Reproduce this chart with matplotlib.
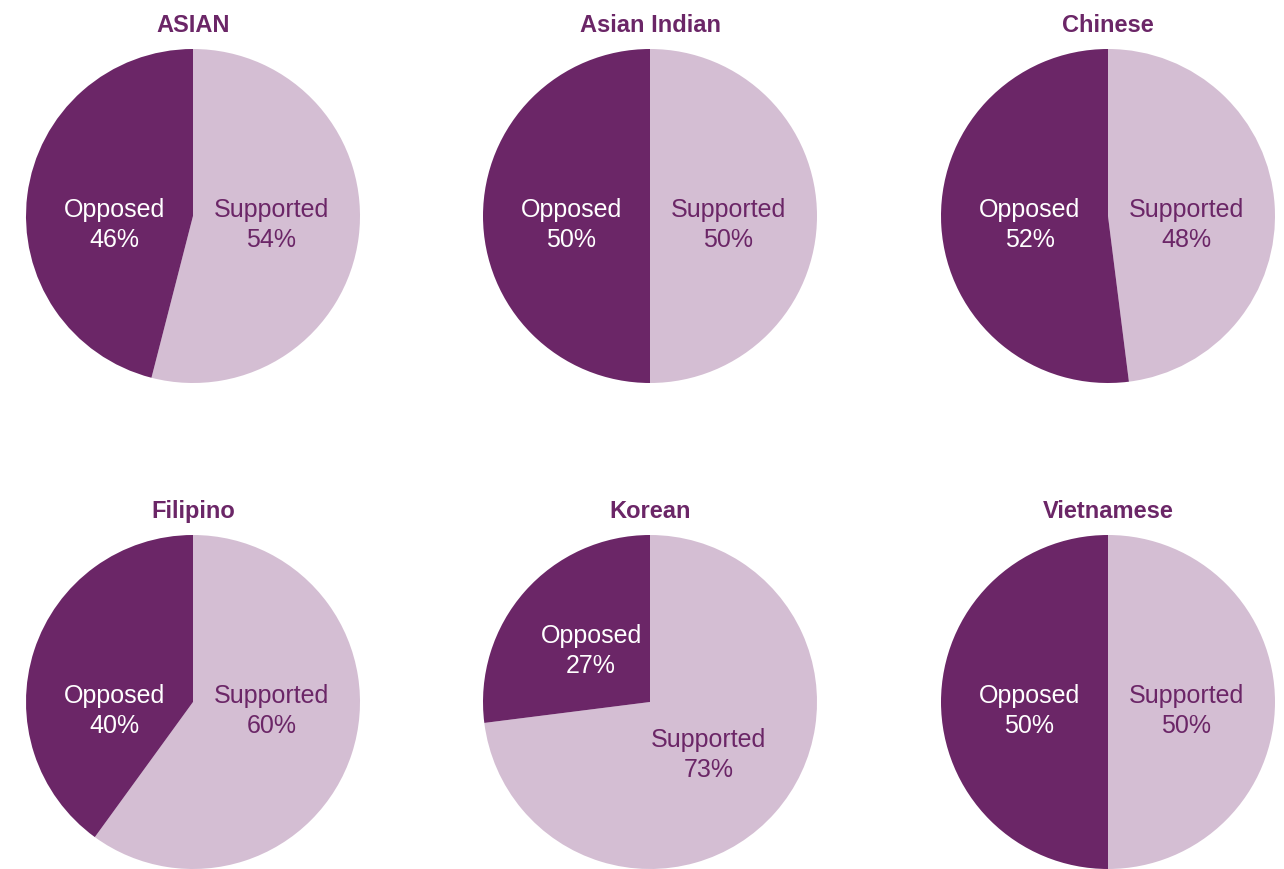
import numpy as np
import matplotlib.pyplot as plt

groups = ["ASIAN", "Asian Indian", "Chinese", "Filipino", "Korean", "Vietnamese"]
supported = [54, 50, 48, 60, 73, 50]
opposed = [46, 50, 52, 40, 27, 50]

DARK = "#6b2667"
LIGHT = "#d4bed3"

W, H = 1284, 870
fig = plt.figure(figsize=(W / 100, H / 100), dpi=100)
plt.rcParams['font.family'] = ['Liberation Sans', 'DejaVu Sans']

# pie centres in pixels (from top-left) and radius
col_x = [193, 650, 1108]
row_y = [217, 703]
R = 167
LBL_R = 0.47


def label_pos(start, frac, side):
    # near-even splits get side-by-side labels, lopsided ones follow the wedge middle
    if 0.35 <= frac <= 0.65:
        return side * LBL_R, -0.05
    mid = np.deg2rad(start - frac * 180)
    return LBL_R * np.cos(mid), LBL_R * np.sin(mid)


for i, name in enumerate(groups):
    cx = col_x[i % 3]
    cy = row_y[i // 3]
    ax = fig.add_axes([(cx - R) / W, (H - cy - R) / H, 2 * R / W, 2 * R / H])
    vals = [supported[i], opposed[i]]
    ax.pie(vals, colors=[LIGHT, DARK], startangle=90, counterclock=False,
           wedgeprops=dict(linewidth=0))
    fs = supported[i] / 100
    fo = opposed[i] / 100
    sx, sy = label_pos(90, fs, 1)
    ox, oy = label_pos(90 - fs * 360, fo, -1)
    ax.text(sx, sy, f"Supported\n{supported[i]}%", color=DARK, fontsize=18,
            ha='center', va='center', linespacing=1.3)
    ax.text(ox, oy, f"Opposed\n{opposed[i]}%", color="white", fontsize=18,
            ha='center', va='center', linespacing=1.3)
    ax.set_xlim(-1, 1)
    ax.set_ylim(-1, 1)
    ax.set_aspect('equal')
    ax.set_title(name, fontsize=17, fontweight='bold', color=DARK, pad=13)

fig.savefig("out.png", dpi=100)
